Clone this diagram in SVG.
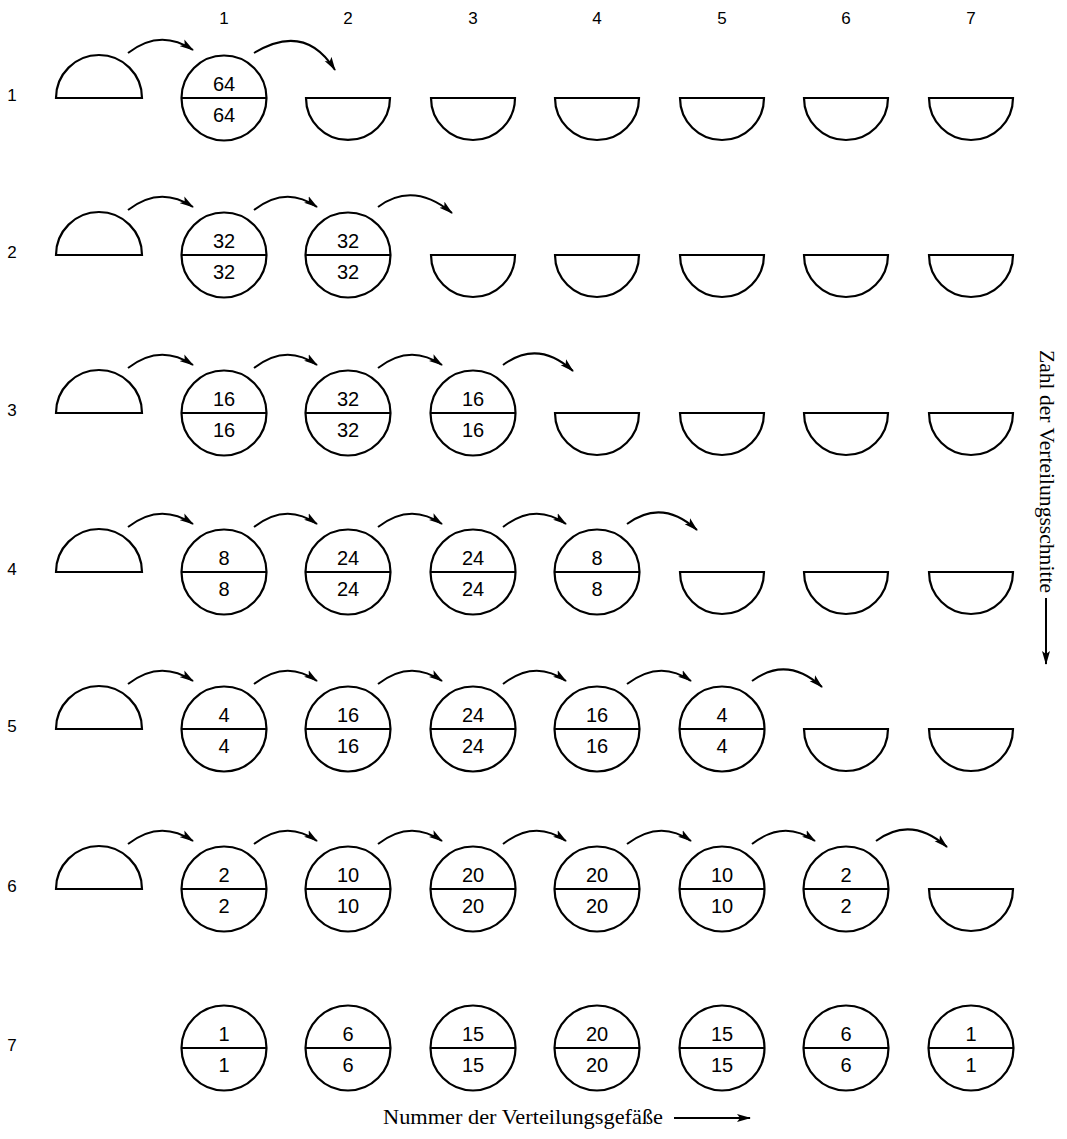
<svg xmlns="http://www.w3.org/2000/svg" width="1067" height="1139" viewBox="0 0 1067 1139">
<defs>
<marker id="ah" markerUnits="userSpaceOnUse" markerWidth="15" markerHeight="9" refX="13" refY="4.5" orient="auto">
<path d="M0,0.5 L14,4.5 L0,8.5 L3,4.5 z" fill="#000"/>
</marker>
<style>
.s{fill:#fff;stroke:#000;stroke-width:2.2}
.d{stroke:#000;stroke-width:2.2}
.n{font-family:"Liberation Sans",Arial,sans-serif;font-size:20px;text-anchor:middle;fill:#000}
.l{font-family:"Liberation Sans",Arial,sans-serif;font-size:17px;text-anchor:middle;fill:#000}
.t{font-family:"Liberation Serif","Times New Roman",serif;font-size:21px;fill:#000}
.c{fill:none;stroke:#000;stroke-width:2;marker-end:url(#ah)}
</style>
</defs>
<rect width="1067" height="1139" fill="#fff"/>

<g id="col-labels">
<text class="l" x="224" y="24">1</text>
<text class="l" x="348" y="24">2</text>
<text class="l" x="473" y="24">3</text>
<text class="l" x="597" y="24">4</text>
<text class="l" x="722" y="24">5</text>
<text class="l" x="846" y="24">6</text>
<text class="l" x="971" y="24">7</text>
</g>
<g id="row-labels">
<text class="l" x="12" y="101">1</text>
<text class="l" x="12" y="258">2</text>
<text class="l" x="12" y="416">3</text>
<text class="l" x="12" y="575">4</text>
<text class="l" x="12" y="732">5</text>
<text class="l" x="12" y="892">6</text>
<text class="l" x="12" y="1051">7</text>
</g>

<!-- Row 1 -->
<g id="r1-src"><path class="s" d="M56,98 A43,43 0 0 1 142,98 Z"/></g>
<g id="r1-c1"><circle class="s" cx="224" cy="98" r="42.5"/><line class="d" x1="181.5" y1="98" x2="266.5" y2="98"/><text class="n" x="224" y="91">64</text><text class="n" x="224" y="122">64</text></g>
<g id="r1-c2"><path class="s" d="M306,98 A42,42 0 0 0 390,98 Z"/></g>
<g id="r1-c3"><path class="s" d="M431,98 A42,42 0 0 0 515,98 Z"/></g>
<g id="r1-c4"><path class="s" d="M555,98 A42,42 0 0 0 639,98 Z"/></g>
<g id="r1-c5"><path class="s" d="M680,98 A42,42 0 0 0 764,98 Z"/></g>
<g id="r1-c6"><path class="s" d="M804,98 A42,42 0 0 0 888,98 Z"/></g>
<g id="r1-c7"><path class="s" d="M929,98 A42,42 0 0 0 1013,98 Z"/></g>

<!-- Row 2 -->
<g id="r2-src"><path class="s" d="M56,255 A43,43 0 0 1 142,255 Z"/></g>
<g id="r2-c1"><circle class="s" cx="224" cy="255" r="42.5"/><line class="d" x1="181.5" y1="255" x2="266.5" y2="255"/><text class="n" x="224" y="248">32</text><text class="n" x="224" y="279">32</text></g>
<g id="r2-c2"><circle class="s" cx="348" cy="255" r="42.5"/><line class="d" x1="305.5" y1="255" x2="390.5" y2="255"/><text class="n" x="348" y="248">32</text><text class="n" x="348" y="279">32</text></g>
<g id="r2-c3"><path class="s" d="M431,255 A42,42 0 0 0 515,255 Z"/></g>
<g id="r2-c4"><path class="s" d="M555,255 A42,42 0 0 0 639,255 Z"/></g>
<g id="r2-c5"><path class="s" d="M680,255 A42,42 0 0 0 764,255 Z"/></g>
<g id="r2-c6"><path class="s" d="M804,255 A42,42 0 0 0 888,255 Z"/></g>
<g id="r2-c7"><path class="s" d="M929,255 A42,42 0 0 0 1013,255 Z"/></g>

<!-- Row 3 -->
<g id="r3-src"><path class="s" d="M56,413 A43,43 0 0 1 142,413 Z"/></g>
<g id="r3-c1"><circle class="s" cx="224" cy="413" r="42.5"/><line class="d" x1="181.5" y1="413" x2="266.5" y2="413"/><text class="n" x="224" y="406">16</text><text class="n" x="224" y="437">16</text></g>
<g id="r3-c2"><circle class="s" cx="348" cy="413" r="42.5"/><line class="d" x1="305.5" y1="413" x2="390.5" y2="413"/><text class="n" x="348" y="406">32</text><text class="n" x="348" y="437">32</text></g>
<g id="r3-c3"><circle class="s" cx="473" cy="413" r="42.5"/><line class="d" x1="430.5" y1="413" x2="515.5" y2="413"/><text class="n" x="473" y="406">16</text><text class="n" x="473" y="437">16</text></g>
<g id="r3-c4"><path class="s" d="M555,413 A42,42 0 0 0 639,413 Z"/></g>
<g id="r3-c5"><path class="s" d="M680,413 A42,42 0 0 0 764,413 Z"/></g>
<g id="r3-c6"><path class="s" d="M804,413 A42,42 0 0 0 888,413 Z"/></g>
<g id="r3-c7"><path class="s" d="M929,413 A42,42 0 0 0 1013,413 Z"/></g>

<!-- Row 4 -->
<g id="r4-src"><path class="s" d="M56,572 A43,43 0 0 1 142,572 Z"/></g>
<g id="r4-c1"><circle class="s" cx="224" cy="572" r="42.5"/><line class="d" x1="181.5" y1="572" x2="266.5" y2="572"/><text class="n" x="224" y="565">8</text><text class="n" x="224" y="596">8</text></g>
<g id="r4-c2"><circle class="s" cx="348" cy="572" r="42.5"/><line class="d" x1="305.5" y1="572" x2="390.5" y2="572"/><text class="n" x="348" y="565">24</text><text class="n" x="348" y="596">24</text></g>
<g id="r4-c3"><circle class="s" cx="473" cy="572" r="42.5"/><line class="d" x1="430.5" y1="572" x2="515.5" y2="572"/><text class="n" x="473" y="565">24</text><text class="n" x="473" y="596">24</text></g>
<g id="r4-c4"><circle class="s" cx="597" cy="572" r="42.5"/><line class="d" x1="554.5" y1="572" x2="639.5" y2="572"/><text class="n" x="597" y="565">8</text><text class="n" x="597" y="596">8</text></g>
<g id="r4-c5"><path class="s" d="M680,572 A42,42 0 0 0 764,572 Z"/></g>
<g id="r4-c6"><path class="s" d="M804,572 A42,42 0 0 0 888,572 Z"/></g>
<g id="r4-c7"><path class="s" d="M929,572 A42,42 0 0 0 1013,572 Z"/></g>

<!-- Row 5 -->
<g id="r5-src"><path class="s" d="M56,729 A43,43 0 0 1 142,729 Z"/></g>
<g id="r5-c1"><circle class="s" cx="224" cy="729" r="42.5"/><line class="d" x1="181.5" y1="729" x2="266.5" y2="729"/><text class="n" x="224" y="722">4</text><text class="n" x="224" y="753">4</text></g>
<g id="r5-c2"><circle class="s" cx="348" cy="729" r="42.5"/><line class="d" x1="305.5" y1="729" x2="390.5" y2="729"/><text class="n" x="348" y="722">16</text><text class="n" x="348" y="753">16</text></g>
<g id="r5-c3"><circle class="s" cx="473" cy="729" r="42.5"/><line class="d" x1="430.5" y1="729" x2="515.5" y2="729"/><text class="n" x="473" y="722">24</text><text class="n" x="473" y="753">24</text></g>
<g id="r5-c4"><circle class="s" cx="597" cy="729" r="42.5"/><line class="d" x1="554.5" y1="729" x2="639.5" y2="729"/><text class="n" x="597" y="722">16</text><text class="n" x="597" y="753">16</text></g>
<g id="r5-c5"><circle class="s" cx="722" cy="729" r="42.5"/><line class="d" x1="679.5" y1="729" x2="764.5" y2="729"/><text class="n" x="722" y="722">4</text><text class="n" x="722" y="753">4</text></g>
<g id="r5-c6"><path class="s" d="M804,729 A42,42 0 0 0 888,729 Z"/></g>
<g id="r5-c7"><path class="s" d="M929,729 A42,42 0 0 0 1013,729 Z"/></g>

<!-- Row 6 -->
<g id="r6-src"><path class="s" d="M56,889 A43,43 0 0 1 142,889 Z"/></g>
<g id="r6-c1"><circle class="s" cx="224" cy="889" r="42.5"/><line class="d" x1="181.5" y1="889" x2="266.5" y2="889"/><text class="n" x="224" y="882">2</text><text class="n" x="224" y="913">2</text></g>
<g id="r6-c2"><circle class="s" cx="348" cy="889" r="42.5"/><line class="d" x1="305.5" y1="889" x2="390.5" y2="889"/><text class="n" x="348" y="882">10</text><text class="n" x="348" y="913">10</text></g>
<g id="r6-c3"><circle class="s" cx="473" cy="889" r="42.5"/><line class="d" x1="430.5" y1="889" x2="515.5" y2="889"/><text class="n" x="473" y="882">20</text><text class="n" x="473" y="913">20</text></g>
<g id="r6-c4"><circle class="s" cx="597" cy="889" r="42.5"/><line class="d" x1="554.5" y1="889" x2="639.5" y2="889"/><text class="n" x="597" y="882">20</text><text class="n" x="597" y="913">20</text></g>
<g id="r6-c5"><circle class="s" cx="722" cy="889" r="42.5"/><line class="d" x1="679.5" y1="889" x2="764.5" y2="889"/><text class="n" x="722" y="882">10</text><text class="n" x="722" y="913">10</text></g>
<g id="r6-c6"><circle class="s" cx="846" cy="889" r="42.5"/><line class="d" x1="803.5" y1="889" x2="888.5" y2="889"/><text class="n" x="846" y="882">2</text><text class="n" x="846" y="913">2</text></g>
<g id="r6-c7"><path class="s" d="M929,889 A42,42 0 0 0 1013,889 Z"/></g>

<!-- Row 7 -->
<g id="r7-c1"><circle class="s" cx="224" cy="1048" r="42.5"/><line class="d" x1="181.5" y1="1048" x2="266.5" y2="1048"/><text class="n" x="224" y="1041">1</text><text class="n" x="224" y="1072">1</text></g>
<g id="r7-c2"><circle class="s" cx="348" cy="1048" r="42.5"/><line class="d" x1="305.5" y1="1048" x2="390.5" y2="1048"/><text class="n" x="348" y="1041">6</text><text class="n" x="348" y="1072">6</text></g>
<g id="r7-c3"><circle class="s" cx="473" cy="1048" r="42.5"/><line class="d" x1="430.5" y1="1048" x2="515.5" y2="1048"/><text class="n" x="473" y="1041">15</text><text class="n" x="473" y="1072">15</text></g>
<g id="r7-c4"><circle class="s" cx="597" cy="1048" r="42.5"/><line class="d" x1="554.5" y1="1048" x2="639.5" y2="1048"/><text class="n" x="597" y="1041">20</text><text class="n" x="597" y="1072">20</text></g>
<g id="r7-c5"><circle class="s" cx="722" cy="1048" r="42.5"/><line class="d" x1="679.5" y1="1048" x2="764.5" y2="1048"/><text class="n" x="722" y="1041">15</text><text class="n" x="722" y="1072">15</text></g>
<g id="r7-c6"><circle class="s" cx="846" cy="1048" r="42.5"/><line class="d" x1="803.5" y1="1048" x2="888.5" y2="1048"/><text class="n" x="846" y="1041">6</text><text class="n" x="846" y="1072">6</text></g>
<g id="r7-c7"><circle class="s" cx="971" cy="1048" r="42.5"/><line class="d" x1="928.5" y1="1048" x2="1013.5" y2="1048"/><text class="n" x="971" y="1041">1</text><text class="n" x="971" y="1072">1</text></g>

<g id="connectors">
<!-- row 1 -->
<path class="c" d="M128,53 Q160,28 193,50"/>
<path class="c" d="M254,53 Q305,22 335,70"/>
<!-- row 2 -->
<path class="c" d="M128,210 Q160,185 193,207"/>
<path class="c" d="M254,210 Q286,185 317,207"/>
<path class="c" d="M378,207 Q413,181 452,213"/>
<!-- row 3 -->
<path class="c" d="M128,368 Q160,343 193,365"/>
<path class="c" d="M254,368 Q286,343 317,365"/>
<path class="c" d="M378,368 Q410,343 442,365"/>
<path class="c" d="M503,365 Q538,339 573,371"/>
<!-- row 4 -->
<path class="c" d="M128,527 Q160,502 193,524"/>
<path class="c" d="M254,527 Q286,502 317,524"/>
<path class="c" d="M378,527 Q410,502 442,524"/>
<path class="c" d="M503,527 Q535,502 566,524"/>
<path class="c" d="M627,524 Q662,498 697,530"/>
<!-- row 5 -->
<path class="c" d="M128,684 Q160,659 193,681"/>
<path class="c" d="M254,684 Q286,659 317,681"/>
<path class="c" d="M378,684 Q410,659 442,681"/>
<path class="c" d="M503,684 Q535,659 566,681"/>
<path class="c" d="M627,684 Q660,659 691,681"/>
<path class="c" d="M752,681 Q787,655 822,687"/>
<!-- row 6 -->
<path class="c" d="M128,844 Q160,819 193,841"/>
<path class="c" d="M254,844 Q286,819 317,841"/>
<path class="c" d="M378,844 Q410,819 442,841"/>
<path class="c" d="M503,844 Q535,819 566,841"/>
<path class="c" d="M627,844 Q660,819 691,841"/>
<path class="c" d="M752,844 Q784,819 815,841"/>
<path class="c" d="M876,841 Q911,815 947,847"/>
<!-- axes -->
<path class="c" d="M1046,598 L1046,664" stroke-width="1.6"/>
<path class="c" d="M674,1118 L750,1118" stroke-width="1.6"/>
</g>

<g id="axis-labels">
<text class="t" transform="translate(1040,350) rotate(90)" textLength="243" lengthAdjust="spacingAndGlyphs">Zahl der Verteilungsschnitte</text>
<text class="t" x="383" y="1124" textLength="280" lengthAdjust="spacingAndGlyphs">Nummer der Verteilungsgefäße</text>
</g>
</svg>
